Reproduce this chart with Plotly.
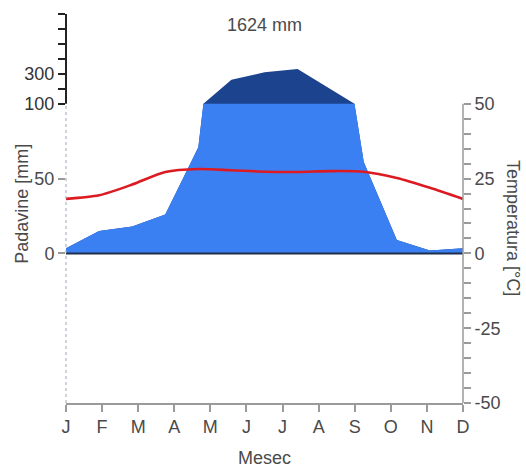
import plotly.graph_objects as go

# ---- data ----
months = ['J', 'F', 'M', 'A', 'M', 'J', 'J', 'A', 'S', 'O', 'N', 'D']
precip_mm = [3.5, 15, 18, 26, 71, 260, 310, 333, 200, 61, 9, 2]
temp_c = [18.2, 19.4, 23.0, 27.2, 28.2, 27.8, 27.3, 27.2, 27.5, 27.3, 25.2, 21.9]
annual_label = "1624 mm"
precip_tick_vals = [100, 110, 120, 130, 140, 150, 160]
precip_tick_text = ['100', '', '300', '', '', '', '']
temp_tick_vals = list(range(-50, 55, 5))
temp_tick_text = [str(v) if v % 25 == 0 else '' for v in temp_tick_vals]

# close the yearly cycle (January repeated at the end)
xs = list(range(len(precip_mm) + 1))
p = precip_mm + [precip_mm[0]]
t = temp_c + [temp_c[0]]

CAP = 100.0


def transform(v):
    return v if v <= CAP else CAP + (v - CAP) / 10.0


def build(xv, vals, fn):
    ox, oy = [], []
    for i in range(len(xv)):
        if i > 0:
            a, b = vals[i - 1], vals[i]
            if (a - CAP) * (b - CAP) < 0:
                f = (CAP - a) / (b - a)
                ox.append(xv[i - 1] + f * (xv[i] - xv[i - 1]))
                oy.append(CAP)
        ox.append(xv[i])
        oy.append(fn(vals[i]))
    return ox, oy


dark_x, dark_y = build(xs, p, transform)
light_x, light_y = build(xs, p, lambda v: min(v, CAP))

FONT = "Liberation Sans, Arial, sans-serif"
TXT = "#4a4a4a"

fig = go.Figure()
fig.add_trace(go.Scatter(x=dark_x, y=dark_y, mode='lines', line=dict(width=0),
                         fill='tozeroy', fillcolor='#1c438e', yaxis='y',
                         hoverinfo='skip', showlegend=False))
fig.add_trace(go.Scatter(x=light_x, y=light_y, mode='lines', line=dict(width=0),
                         fill='tozeroy', fillcolor='#3a80f2', yaxis='y2',
                         hoverinfo='skip', showlegend=False))
fig.add_trace(go.Scatter(x=xs, y=t, mode='lines', yaxis='y3',
                         line=dict(color='#dc1a22', width=2.6, shape='spline', smoothing=0.7),
                         showlegend=False))

tick_pos = [i * 12 / 11 for i in range(12)]

fig.update_layout(
    width=526, height=468,
    margin=dict(l=66, r=63, t=14, b=65),
    paper_bgcolor='white', plot_bgcolor='white',
    font=dict(family=FONT, size=18, color=TXT),
    xaxis=dict(range=[0, 12], tickvals=tick_pos, ticktext=months,
               ticks='outside', ticklen=7, tickwidth=1.5, tickcolor='#9a9a9a',
               showline=True, linecolor='#9a9a9a', linewidth=1.5,
               showgrid=False, zeroline=False, tickfont=dict(size=18, color=TXT)),
    yaxis=dict(range=[-100, 160], tickvals=[0, 50], ticktext=['0', '50'],
               ticks='outside', ticklen=7, tickwidth=1.5, tickcolor='#9a9a9a',
               showline=False, showgrid=False, zeroline=False,
               tickfont=dict(size=18, color=TXT)),
    yaxis2=dict(range=[-100, 160], overlaying='y', side='left', anchor='x',
                tickvals=precip_tick_vals, ticktext=precip_tick_text,
                ticks='outside', ticklen=7, tickwidth=1.5, tickcolor='#222222',
                showline=False, showgrid=False, zeroline=False,
                tickfont=dict(size=18, color='#333333')),
    yaxis3=dict(range=[-50, 80], overlaying='y', side='right', anchor='x',
                tickvals=temp_tick_vals, ticktext=temp_tick_text,
                ticks='outside', ticklen=7, tickwidth=1.5, tickcolor='#9a9a9a',
                showline=False, showgrid=False, zeroline=False,
                tickfont=dict(size=18, color=TXT)),
    shapes=[
        dict(type='line', xref='x domain', yref='y', x0=0, x1=1, y0=0, y1=0,
             line=dict(color='#1e2e4a', width=2), layer='above'),
        dict(type='line', xref='x domain', yref='y', x0=0, x1=0, y0=-100, y1=100,
             line=dict(color='#9aa3b5', width=1, dash='dot'), layer='above'),
        dict(type='line', xref='x domain', yref='y', x0=0, x1=0, y0=100, y1=160,
             line=dict(color='#222222', width=2), layer='above'),
        dict(type='line', xref='x domain', yref='y3', x0=1, x1=1, y0=-50, y1=50,
             line=dict(color='#9a9a9a', width=1.5), layer='above'),
    ],
    annotations=[
        dict(text=annual_label, xref='paper', yref='paper', x=0.5, y=0.972,
             xanchor='center', yanchor='middle',
             showarrow=False, font=dict(size=18, color=TXT)),
        dict(text='Padavine [mm]', xref='paper', yref='paper', x=-0.111, y=0.512,
             xanchor='center', yanchor='middle',
             textangle=-90, showarrow=False, font=dict(size=18, color=TXT)),
        dict(text='Temperatura [°C]', xref='paper', yref='paper', x=1.126, y=0.45,
             xanchor='center', yanchor='middle',
             textangle=90, showarrow=False, font=dict(size=18, color=TXT)),
        dict(text='Mesec', xref='paper', yref='paper', x=0.5, y=-0.141,
             xanchor='center', yanchor='middle',
             showarrow=False, font=dict(size=18, color=TXT)),
    ],
)

fig.write_html("out.html")
